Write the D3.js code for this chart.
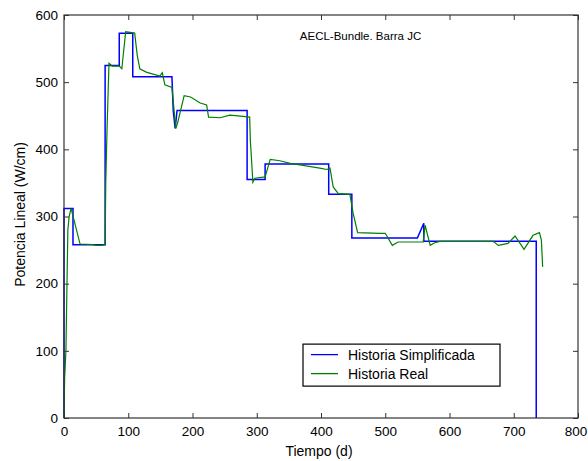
<!DOCTYPE html>
<html lang="en">
<head>
    <meta charset="UTF-8">
    <title>AECL-Bundle. Barra JC</title>
    <script src="https://d3js.org/d3.v7.min.js"></script>
    <style>
        body {
            margin: 0;
            background-color: #ffffff;
            font-family: Arial, "Liberation Sans", sans-serif;
        }
        .tick text {
            font-size: 13.5px;
            fill: #000;
        }
        .axis-title {
            font-size: 14px;
            fill: #000;
        }
        .legend text {
            font-size: 14px;
            fill: #000;
        }
    </style>
</head>
<body>
    <svg width="588" height="461"></svg>
    <script>
        // Historia simplificada (blue): day, W/cm
        const simpDays = [0, 0, 14, 14, 64, 64, 86, 86, 107, 107, 168, 170, 173, 176, 285, 285, 313, 313, 412, 412, 448, 448, 550, 560, 560, 735, 735];
        const simpVals = [0, 312, 312, 258, 258, 525, 525, 573, 573, 508, 508, 458, 431, 458, 458, 355, 355, 378, 378, 333, 333, 268, 268, 290, 263, 263, 0];

        // Historia real (green): day, W/cm
        const realDays = [0, 1, 3, 4, 5, 6, 8, 11, 25, 45, 50, 58, 64, 65, 67, 70, 75, 86, 90, 96, 110, 114, 118, 128, 149, 153, 157, 168, 174, 177, 187, 197, 212, 222, 225, 243, 258, 279, 289, 290, 294, 297, 313, 321, 336, 352, 372, 398, 409, 414, 419, 427, 445, 450, 457, 492, 500, 511, 520, 559, 562, 570, 577, 585, 668, 676, 691, 702, 716, 730, 740, 743, 745];
        const realVals = [0, 60, 100, 160, 220, 280, 300, 312, 259, 258, 257, 257, 258, 350, 430, 528, 524, 524, 520, 575, 573, 540, 520, 515, 509, 514, 496, 492, 431, 440, 480, 478, 469, 466, 448, 447, 451, 449, 448, 414, 351, 357, 359, 385, 383, 379, 376, 372, 370, 372, 344, 334, 333, 305, 276, 275, 275, 257, 262, 262, 287, 257, 261, 263, 263, 257, 260, 271, 251, 272, 276, 265, 225];

        const xTicks = [0, 100, 200, 300, 400, 500, 600, 700, 800];
        const yTicks = [0, 100, 200, 300, 400, 500, 600];
        const seriesNames = ["Historia Simplificada", "Historia Real"];
        const seriesColors = ["#0000ff", "#008000"];

        const margin = {top: 15, right: 10, bottom: 43, left: 64},
              width = 588 - margin.left - margin.right,
              height = 461 - margin.top - margin.bottom;

        const svg = d3.select("svg")
                      .append("g")
                      .attr("transform", `translate(${margin.left},${margin.top})`);

        const x = d3.scaleLinear().domain([0, 800]).range([0, width]);
        const y = d3.scaleLinear().domain([0, 600]).range([height, 0]);

        const simp = simpDays.map((d, i) => [d, simpVals[i]]);
        const real = realDays.map((d, i) => [d, realVals[i]]);

        const line = d3.line()
                       .x(d => x(d[0]))
                       .y(d => y(d[1]));

        // Lines
        svg.append("path")
           .datum(simp)
           .attr("fill", "none")
           .attr("stroke", seriesColors[0])
           .attr("stroke-width", 1.5)
           .attr("d", line);

        svg.append("path")
           .datum(real)
           .attr("fill", "none")
           .attr("stroke", seriesColors[1])
           .attr("stroke-width", 1.2)
           .attr("d", line);

        // Axes (MATLAB style: inner ticks on all sides)
        const axisColor = "#333";
        const styleAxis = g => {
            g.select(".domain").remove();
            g.selectAll(".tick line").attr("stroke", axisColor);
        };

        const xAxis = svg.append("g")
           .attr("transform", `translate(0,${height})`)
           .call(d3.axisBottom(x).tickValues(xTicks).tickSize(-5).tickPadding(8).tickFormat(d3.format("d")))
           .call(styleAxis);
        xAxis.selectAll("text").attr("font-family", "Arial, 'Liberation Sans', sans-serif");
        // last label sits on the right edge of the window
        xAxis.selectAll(".tick text").filter(d => d === 800).attr("dx", -2.5);

        svg.append("g")
           .call(d3.axisTop(x).tickValues(xTicks).tickSize(-5).tickFormat(""))
           .call(styleAxis);

        svg.append("g")
           .call(d3.axisLeft(y).tickValues(yTicks).tickSize(-5).tickPadding(6).tickFormat(d3.format("d")))
           .call(styleAxis)
           .selectAll("text").attr("font-family", "Arial, 'Liberation Sans', sans-serif");

        svg.append("g")
           .attr("transform", `translate(${width},0)`)
           .call(d3.axisRight(y).tickValues(yTicks).tickSize(-5).tickFormat(""))
           .call(styleAxis);

        // Frame
        svg.append("rect")
           .attr("x", 0)
           .attr("y", 0)
           .attr("width", width)
           .attr("height", height)
           .attr("fill", "none")
           .attr("stroke", axisColor)
           .attr("stroke-width", 1.2);

        // Axis titles
        svg.append("text")
           .attr("class", "axis-title")
           .attr("x", x(400) - 2)
           .attr("y", height + 38)
           .attr("text-anchor", "middle")
           .text("Tiempo (d)");

        svg.append("text")
           .attr("class", "axis-title")
           .attr("transform", "rotate(-90)")
           .attr("x", -(height / 2) + 2)
           .attr("y", -39)
           .attr("text-anchor", "middle")
           .text("Potencia Lineal (W/cm)");

        // Annotation
        svg.append("text")
           .attr("x", x(367))
           .attr("y", y(563))
           .attr("font-size", "11.5px")
           .text("AECL-Bundle. Barra JC");

        // Legend
        const legend = svg.append("g")
                          .attr("class", "legend")
                          .attr("transform", `translate(${x(372)},${y(110)})`);

        legend.append("rect")
              .attr("x", 0)
              .attr("y", 0)
              .attr("width", 197)
              .attr("height", 42)
              .attr("fill", "#fff")
              .attr("stroke", "#000")
              .attr("stroke-width", 1.2);

        const items = legend.selectAll(".legend-item")
                            .data(seriesNames)
                            .enter()
                            .append("g")
                            .attr("class", "legend-item")
                            .attr("transform", (d, i) => `translate(0, ${10.5 + i * 19})`);

        items.append("line")
             .attr("x1", 8)
             .attr("x2", 35)
             .attr("y1", 0)
             .attr("y2", 0)
             .attr("stroke", (d, i) => seriesColors[i])
             .attr("stroke-width", 1.3);

        items.append("text")
             .attr("x", 45)
             .attr("y", 0)
             .attr("dy", "0.35em")
             .text(d => d);
    </script>
</body>
</html>
